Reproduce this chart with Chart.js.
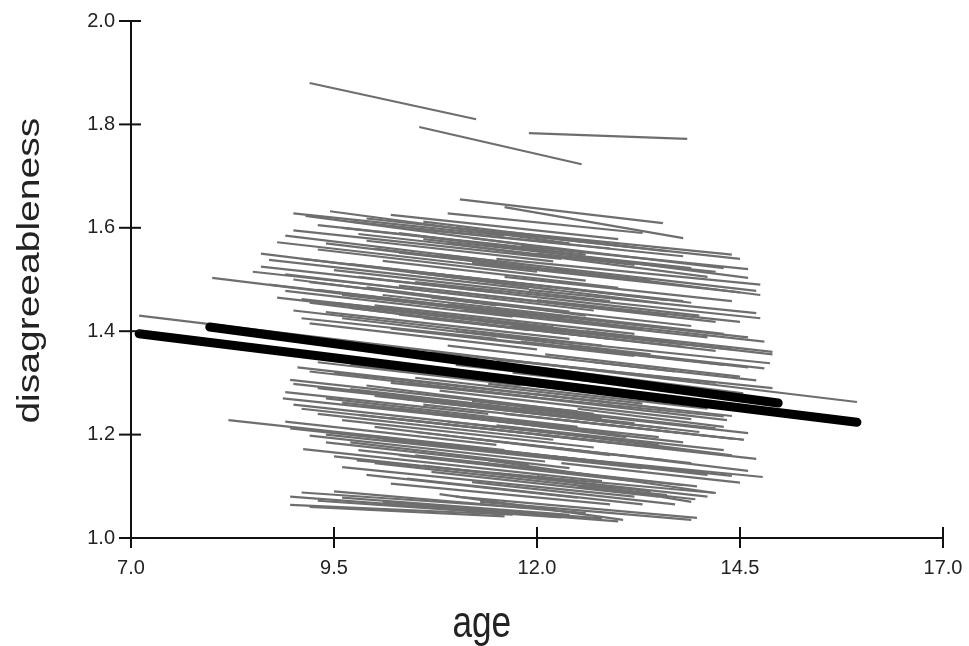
<!DOCTYPE html>
<html>
<head>
<meta charset="utf-8">
<script src="https://cdn.jsdelivr.net/npm/chart.js@4"></script>
<style>
  html, body { margin: 0; padding: 0; background: #fff; }
  #wrap { width: 969px; height: 646px; }
</style>
</head>
<body>
<div id="wrap"><canvas id="chart"></canvas></div>
<script>
// axis ticks
const ageTicks = [7.0, 9.5, 12.0, 14.5, 17.0];
const scoreTicks = [1.0, 1.2, 1.4, 1.6, 1.8, 2.0];
const xTitle = "age";
const yTitle = "disagreeableness";

// individual trajectories: [start age, start score, end age, end score]
const individualLines = [
    [9.2, 1.880, 11.25, 1.810],
    [10.55, 1.795, 12.55, 1.723],
    [11.9, 1.783, 13.85, 1.772],

    [11.05, 1.655, 13.55, 1.609],
    [11.6, 1.640, 13.8, 1.580],
    [9.45, 1.632, 12.4, 1.570],
    [9.0, 1.628, 11.6, 1.585],
    [10.9, 1.628, 13.3, 1.590],
    [10.2, 1.625, 13.0, 1.578],
    [9.15, 1.623, 11.9, 1.566],
    [9.9, 1.618, 14.5, 1.540],
    [10.6, 1.612, 13.2, 1.562],
    [9.7, 1.612, 12.9, 1.560],
    [9.3, 1.605, 12.0, 1.560],
    [11.0, 1.600, 13.6, 1.555],
    [9.6, 1.600, 12.6, 1.548],
    [10.5, 1.598, 13.8, 1.545],
    [9.0, 1.595, 12.3, 1.540],
    [11.6, 1.592, 14.4, 1.548],
    [10.3, 1.590, 14.6, 1.503],
    [9.8, 1.588, 13.2, 1.528],
    [8.9, 1.585, 11.8, 1.530],
    [11.2, 1.580, 14.3, 1.522],
    [10.6, 1.578, 13.9, 1.522],
    [9.9, 1.575, 12.2, 1.535],
    [8.8, 1.572, 12.0, 1.515],
    [10.9, 1.570, 14.1, 1.505],
    [9.4, 1.570, 13.1, 1.500],
    [11.8, 1.565, 14.6, 1.520],
    [10.0, 1.560, 12.9, 1.505],
    [9.3, 1.558, 12.6, 1.498],
    [10.3, 1.552, 13.4, 1.498],
    [8.6, 1.550, 12.2, 1.480],
    [12.0, 1.550, 14.2, 1.515],
    [10.8, 1.548, 14.7, 1.478],
    [11.5, 1.540, 14.75, 1.490],
    [9.1, 1.540, 13.6, 1.460],
    [8.7, 1.538, 11.9, 1.482],
    [10.1, 1.536, 13.0, 1.484],
    [11.2, 1.532, 14.5, 1.475],
    [9.7, 1.530, 13.9, 1.455],
    [8.6, 1.525, 11.5, 1.475],
    [12.2, 1.520, 14.75, 1.470],
    [9.5, 1.518, 12.9, 1.458],
    [10.4, 1.515, 13.5, 1.455],
    [8.5, 1.515, 11.0, 1.472],
    [10.7, 1.512, 13.8, 1.458],
    [8.9, 1.510, 12.7, 1.440],
    [9.8, 1.505, 14.0, 1.430],
    [11.6, 1.505, 14.4, 1.458],
    [8.0, 1.503, 11.8, 1.430],
    [9.0, 1.500, 11.5, 1.450],
    [10.5, 1.495, 14.75, 1.425],
    [9.2, 1.495, 12.4, 1.438],
    [8.7, 1.490, 12.3, 1.425],
    [10.3, 1.488, 13.6, 1.430],
    [9.9, 1.485, 12.6, 1.430],
    [11.9, 1.480, 14.7, 1.435],
    [9.3, 1.480, 13.3, 1.405],
    [8.9, 1.478, 11.7, 1.428],
    [11.0, 1.475, 14.2, 1.418],
    [10.1, 1.470, 14.3, 1.395],
    [9.6, 1.470, 13.0, 1.410],
    [8.8, 1.465, 12.5, 1.398],
    [10.7, 1.465, 13.9, 1.410],
    [9.1, 1.462, 12.2, 1.408],
    [12.0, 1.460, 14.5, 1.418],
    [9.2, 1.455, 11.9, 1.402],
    [9.5, 1.455, 13.7, 1.380],
    [10.9, 1.452, 14.6, 1.388],
    [10.0, 1.450, 13.2, 1.395],
    [9.7, 1.445, 12.9, 1.385],
    [11.1, 1.440, 14.1, 1.388],
    [9.0, 1.440, 12.8, 1.372],
    [9.4, 1.437, 12.4, 1.385],
    [10.3, 1.432, 14.2, 1.362],
    [9.6, 1.425, 13.4, 1.355],
    [10.6, 1.425, 13.8, 1.370],
    [9.1, 1.425, 11.5, 1.385],
    [12.2, 1.425, 14.8, 1.380],
    [11.3, 1.420, 14.9, 1.355],
    [9.2, 1.415, 12.0, 1.365],
    [11.7, 1.410, 14.4, 1.365],
    [10.2, 1.405, 13.2, 1.352],
    [12.6, 1.400, 14.9, 1.360],
    [7.1, 1.430, 15.94, 1.263],

    [11.0, 1.400, 14.87, 1.338],
    [11.4, 1.385, 14.3, 1.335],
    [11.8, 1.380, 14.6, 1.330],
    [10.9, 1.372, 13.7, 1.322],
    [12.4, 1.370, 14.8, 1.328],
    [10.7, 1.360, 14.2, 1.300],
    [12.1, 1.355, 14.5, 1.312],
    [11.5, 1.345, 14.9, 1.290],
    [9.3, 1.340, 11.8, 1.295],
    [12.7, 1.340, 14.7, 1.305],
    [11.0, 1.335, 13.9, 1.285],
    [9.7, 1.335, 12.2, 1.292],
    [12.0, 1.330, 14.54, 1.280],
    [9.05, 1.330, 12.9, 1.262],
    [10.1, 1.330, 12.8, 1.282],
    [9.2, 1.322, 12.0, 1.272],
    [11.2, 1.320, 14.0, 1.265],
    [9.5, 1.320, 13.6, 1.250],
    [11.7, 1.320, 14.3, 1.275],
    [10.8, 1.315, 13.6, 1.265],
    [12.4, 1.310, 14.7, 1.270],
    [10.5, 1.310, 13.3, 1.260],
    [8.96, 1.306, 12.5, 1.245],
    [10.4, 1.300, 14.34, 1.228],
    [12.3, 1.300, 14.6, 1.250],
    [10.2, 1.300, 14.3, 1.235],
    [9.0, 1.298, 11.9, 1.248],
    [11.4, 1.298, 14.1, 1.250],
    [9.9, 1.295, 12.7, 1.240],
    [9.3, 1.290, 13.2, 1.222],
    [9.7, 1.288, 12.8, 1.232],
    [10.8, 1.285, 13.9, 1.230],
    [8.9, 1.282, 11.4, 1.240],
    [12.0, 1.278, 14.4, 1.236],
    [10.0, 1.275, 14.0, 1.205],
    [8.87, 1.270, 12.2, 1.215],
    [9.4, 1.270, 12.5, 1.215],
    [10.4, 1.268, 13.6, 1.212],
    [11.2, 1.265, 14.2, 1.212],
    [9.6, 1.262, 13.5, 1.195],
    [10.6, 1.258, 14.55, 1.190],
    [9.0, 1.258, 11.8, 1.210],
    [9.9, 1.255, 13.0, 1.200],
    [11.8, 1.252, 14.6, 1.203],
    [12.5, 1.250, 14.3, 1.215],
    [10.3, 1.250, 13.1, 1.195],
    [9.1, 1.250, 12.9, 1.185],
    [11.6, 1.240, 14.54, 1.190],
    [9.3, 1.240, 12.2, 1.190],
    [10.7, 1.240, 13.8, 1.185],
    [9.8, 1.238, 13.8, 1.170],
    [10.2, 1.232, 13.3, 1.178],
    [12.2, 1.230, 14.4, 1.192],
    [8.2, 1.228, 11.6, 1.170],
    [9.6, 1.228, 12.7, 1.175],
    [10.9, 1.225, 13.5, 1.180],
    [8.9, 1.225, 11.5, 1.180],
    [11.5, 1.218, 14.3, 1.170],
    [10.0, 1.215, 12.9, 1.160],
    [8.96, 1.212, 12.6, 1.150],
    [11.9, 1.210, 14.4, 1.160],
    [10.5, 1.205, 13.6, 1.150],
    [12.0, 1.200, 14.7, 1.153],
    [9.4, 1.200, 13.3, 1.135],
    [9.2, 1.198, 12.1, 1.148],
    [9.9, 1.198, 12.9, 1.146],
    [11.2, 1.192, 13.9, 1.145],
    [10.1, 1.190, 14.78, 1.118],
    [9.7, 1.185, 12.4, 1.135],
    [9.4, 1.185, 11.9, 1.142],
    [10.8, 1.180, 14.1, 1.122],
    [12.2, 1.175, 14.6, 1.130],
    [9.12, 1.172, 12.8, 1.110],
    [9.8, 1.170, 13.0, 1.115],
    [11.6, 1.168, 14.4, 1.120],
    [10.5, 1.160, 13.97, 1.100],
    [10.3, 1.160, 13.2, 1.110],
    [9.5, 1.158, 12.2, 1.112],
    [11.4, 1.150, 14.2, 1.087],
    [9.78, 1.150, 14.2, 1.087],
    [11.0, 1.150, 13.8, 1.102],
    [10.0, 1.145, 13.6, 1.083],
    [12.3, 1.145, 14.5, 1.107],
    [10.6, 1.140, 13.4, 1.090],
    [9.6, 1.137, 13.2, 1.080],
    [10.7, 1.128, 13.5, 1.080],
    [11.5, 1.125, 14.1, 1.080],
    [9.9, 1.122, 12.5, 1.078],
    [12.0, 1.120, 13.9, 1.070],
    [10.4, 1.115, 13.3, 1.065],
    [11.2, 1.108, 13.7, 1.065],
    [10.2, 1.105, 12.9, 1.065],
    [12.5, 1.100, 13.95, 1.075],
    [9.5, 1.090, 12.6, 1.048],
    [9.1, 1.088, 11.9, 1.058],
    [10.8, 1.085, 13.06, 1.035],
    [11.0, 1.080, 13.97, 1.039],
    [8.96, 1.080, 11.5, 1.050],
    [9.6, 1.078, 12.4, 1.045],
    [9.3, 1.072, 12.3, 1.040],
    [10.1, 1.070, 12.8, 1.038],
    [11.3, 1.070, 13.9, 1.035],
    [8.96, 1.064, 11.7, 1.045],
    [10.5, 1.062, 13.0, 1.032],
    [9.2, 1.060, 11.6, 1.042]
];

// group mean trajectories (thick black)
const groupAAges = [7.1, 15.94];
const groupAScores = [1.395, 1.224];
const groupBAges = [7.97, 14.97];
const groupBScores = [1.408, 1.261];

const GRAY = "#6e6e6e";

function toPoints(ages, scores) {
    return ages.map((a, i) => ({ x: a, y: scores[i] }));
}

const datasets = [];
datasets.push({
    data: toPoints(groupAAges, groupAScores),
    borderColor: "#000",
    borderWidth: 9,
    borderCapStyle: "round",
    order: 0
});
datasets.push({
    data: toPoints(groupBAges, groupBScores),
    borderColor: "#000",
    borderWidth: 9,
    borderCapStyle: "round",
    order: 0
});
individualLines.forEach(function (s) {
    datasets.push({
        data: [{ x: s[0], y: s[1] }, { x: s[2], y: s[3] }],
        borderColor: GRAY,
        borderWidth: 2.2,
        order: 1
    });
});

// ticks crossing the axis lines, and the two (narrow) axis titles
const axisExtras = {
    id: "axisExtras",
    afterDraw(chart) {
        const ctx = chart.ctx;
        const area = chart.chartArea;
        const xs = chart.scales.x;
        const ys = chart.scales.y;
        ctx.save();
        ctx.strokeStyle = "#111";
        ctx.lineWidth = 2;
        ageTicks.forEach(function (v) {
            const px = xs.getPixelForValue(v);
            ctx.beginPath();
            ctx.moveTo(px, area.bottom - 11);
            ctx.lineTo(px, area.bottom + 10);
            ctx.stroke();
        });
        scoreTicks.forEach(function (v) {
            const py = ys.getPixelForValue(v);
            ctx.beginPath();
            ctx.moveTo(area.left - 12, py);
            ctx.lineTo(area.left + 10, py);
            ctx.stroke();
        });

        ctx.fillStyle = "#222";
        ctx.font = "44px 'Liberation Sans', Arial, sans-serif";
        ctx.textAlign = "center";
        ctx.textBaseline = "alphabetic";
        ctx.save();
        ctx.translate(area.left + (area.right - area.left) * 0.432, 637);
        ctx.scale(0.8, 1);
        ctx.fillText(xTitle, 0, 0);
        ctx.restore();

        ctx.font = "39px 'Liberation Sans', Arial, sans-serif";
        ctx.textBaseline = "middle";
        ctx.save();
        ctx.translate(30, area.top + (area.bottom - area.top) * 0.483);
        ctx.rotate(-Math.PI / 2);
        ctx.scale(1, 0.8);
        ctx.fillText(yTitle, 0, 0);
        ctx.restore();
        ctx.restore();
    }
};

function noLabelPadding(scale) {
    scale.paddingLeft = 0;
    scale.paddingRight = 0;
    scale.paddingTop = 0;
    scale.paddingBottom = 0;
}

const tickFont = { family: "'Liberation Sans', Arial", size: 20 };

const chart = new Chart(document.getElementById("chart"), {
    type: "scatter",
    data: { datasets: datasets },
    options: {
        responsive: true,
        maintainAspectRatio: false,
        animation: false,
        showLine: true,
        layout: { autoPadding: false, padding: { top: 21, right: 26, left: 0, bottom: 0 } },
        elements: { point: { radius: 0 }, line: { tension: 0 } },
        plugins: { legend: { display: false }, tooltip: { enabled: false } },
        scales: {
            x: {
                type: "linear",
                min: 7,
                max: 17,
                afterBuildTicks: function (scale) {
                    scale.ticks = ageTicks.map(v => ({ value: v }));
                },
                afterFit: function (scale) {
                    scale.height = 108;
                    noLabelPadding(scale);
                },
                grid: { display: false, drawTicks: false },
                border: { display: true, color: "#111", width: 2 },
                ticks: {
                    color: "#222",
                    font: tickFont,
                    padding: 18,
                    maxRotation: 0,
                    autoSkip: false,
                    callback: v => Number(v).toFixed(1)
                }
            },
            y: {
                type: "linear",
                min: 1,
                max: 2,
                afterBuildTicks: function (scale) {
                    scale.ticks = scoreTicks.map(v => ({ value: v }));
                },
                afterFit: function (scale) {
                    scale.width = 131;
                    noLabelPadding(scale);
                },
                grid: { display: false, drawTicks: false },
                border: { display: true, color: "#111", width: 2 },
                ticks: {
                    color: "#222",
                    font: tickFont,
                    padding: 16,
                    callback: v => Number(v).toFixed(1)
                }
            }
        }
    },
    plugins: [axisExtras]
});
</script>
</body>
</html>
